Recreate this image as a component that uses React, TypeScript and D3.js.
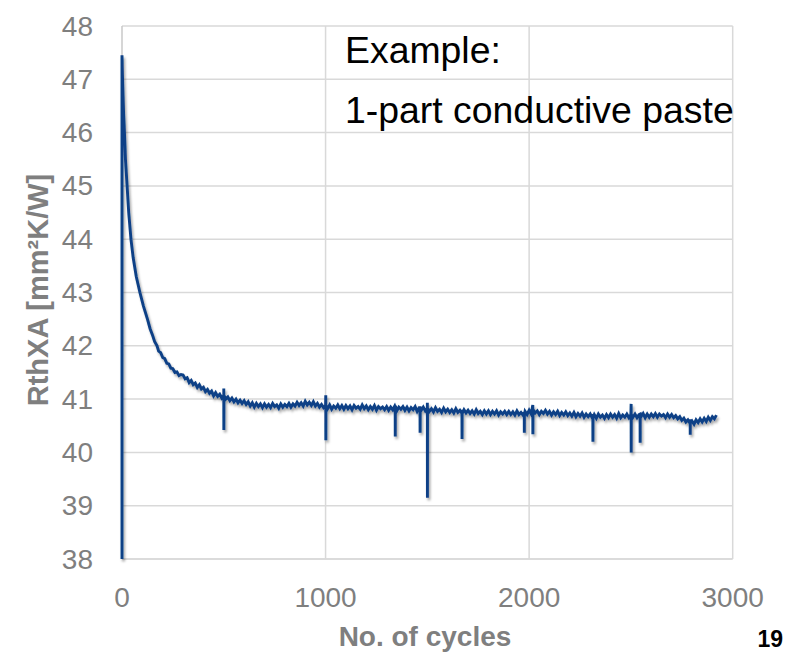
import React from "react";
import * as d3 from "d3";

// ---- data ----
const xTicks = [0, 1000, 2000, 3000];
const yTicks = [38, 39, 40, 41, 42, 43, 44, 45, 46, 47, 48];

// initial drop-in + decay section
const decayCycles = [0, 0, 2, 5, 8, 12, 17, 25, 33, 44, 55, 70, 88, 105, 125, 138, 150, 160, 172, 180, 190, 200, 210, 220, 230, 240, 250, 260, 270, 280, 290];
const decayValues = [38, 47.45, 47.1, 46.7, 46.35, 46.0, 45.5, 45.0, 44.5, 44.0, 43.65, 43.3, 43.0, 42.75, 42.5, 42.32, 42.2, 42.08, 42.0, 41.9, 41.87, 41.78, 41.76, 41.67, 41.66, 41.58, 41.57, 41.5, 41.51, 41.44, 41.46];

// plateau section, sampled every 10 cycles from 300
const plateauStart = 300;
const plateauStep = 10;
const plateauValues = [
  41.45, 41.38, 41.4, 41.31, 41.35, 41.27, 41.3, 41.22, 41.27, 41.19,
  41.22, 41.14, 41.18, 41.11, 41.15, 41.06, 41.12, 41.05, 41.09, 41.02,
  41.07, 41.0, 41.04, 40.97, 41.02, 40.95, 41.0, 40.93, 40.98, 40.92,
  40.97, 40.9, 40.95, 40.87, 40.93, 40.85, 40.92, 40.86, 40.91, 40.84,
  40.91, 40.85, 40.9, 40.84, 40.92, 40.86, 40.89, 40.83, 40.91, 40.85,
  40.9, 40.86, 40.92, 40.85, 40.91, 40.87, 40.94, 40.88, 40.93, 40.87,
  40.96, 40.89, 40.94, 40.88, 40.95, 40.87, 40.92, 40.85, 40.9, 40.84,
  40.88, 40.82, 40.89, 40.81, 40.87, 40.83, 40.89, 40.82, 40.88, 40.81,
  40.88, 40.82, 40.87, 40.8, 40.88, 40.83, 40.86, 40.81, 40.89, 40.82,
  40.87, 40.8, 40.86, 40.81, 40.88, 40.79, 40.86, 40.82, 40.85, 40.8,
  40.86, 40.79, 40.85, 40.8, 40.87, 40.78, 40.85, 40.81, 40.86, 40.79,
  40.85, 40.78, 40.84, 40.8, 40.86, 40.77, 40.84, 40.79, 40.85, 40.78,
  40.83, 40.77, 40.82, 40.76, 40.84, 40.77, 40.81, 40.75, 40.83, 40.76,
  40.81, 40.75, 40.8, 40.74, 40.82, 40.75, 40.79, 40.73, 40.8, 40.74,
  40.79, 40.73, 40.78, 40.72, 40.8, 40.73, 40.77, 40.71, 40.78, 40.72,
  40.78, 40.71, 40.77, 40.72, 40.78, 40.7, 40.76, 40.72, 40.77, 40.71,
  40.77, 40.71, 40.76, 40.7, 40.78, 40.71, 40.75, 40.7, 40.77, 40.71,
  40.79, 40.72, 40.8, 40.74, 40.78, 40.71, 40.77, 40.73, 40.79, 40.72,
  40.77, 40.7, 40.76, 40.71, 40.77, 40.69, 40.75, 40.7, 40.76, 40.69,
  40.74, 40.68, 40.75, 40.67, 40.73, 40.68, 40.74, 40.66, 40.72, 40.67,
  40.72, 40.65, 40.71, 40.64, 40.72, 40.66, 40.7, 40.64, 40.71, 40.65,
  40.72, 40.66, 40.71, 40.64, 40.73, 40.65, 40.7, 40.66, 40.72, 40.65,
  40.71, 40.66, 40.72, 40.65, 40.71, 40.67, 40.73, 40.65, 40.72, 40.66,
  40.72, 40.67, 40.73, 40.66, 40.72, 40.68, 40.71, 40.65, 40.72, 40.66,
  40.71, 40.65, 40.69, 40.63, 40.67, 40.6, 40.64, 40.57, 40.61, 40.55,
  40.59, 40.53, 40.61, 40.56, 40.63, 40.57, 40.64, 40.58, 40.66, 40.6,
  40.67, 40.63, 40.7,
];

// isolated measurement spikes
const spikeCycles = [500, 1001, 1342, 1464, 1500, 1670, 1976, 2018, 2313, 2501, 2545, 2791];
const spikeTop = [41.2, 41.07, 40.85, 40.84, 40.93, 40.8, 40.75, 40.89, 40.72, 40.91, 40.72, 40.62];
const spikeBottom = [40.42, 40.23, 40.3, 40.37, 39.15, 40.25, 40.37, 40.34, 40.2, 40.0, 40.18, 40.33];

const W = 787;
const H = 654;
const FONT = "'Liberation Sans', Arial, Helvetica, sans-serif";

export default function App() {
  const x = d3.scaleLinear().domain([0, 3000]).range([122, 732.7]);
  const y = d3.scaleLinear().domain([38, 48]).range([559, 26]);

  const pts: [number, number][] = [];
  decayCycles.forEach((c, i) => pts.push([c, decayValues[i]]));
  const plateau: [number, number][] = plateauValues.map((v, i) => [plateauStart + plateauStep * i, v]);
  const extra: [number, number][] = [];
  spikeCycles.forEach((c, i) => {
    const prev = plateau.filter((p) => p[0] <= c).pop();
    const base = prev ? prev[1] : spikeTop[i];
    extra.push([c + 0.01, spikeTop[i]]);
    extra.push([c + 0.4, spikeBottom[i]]);
    extra.push([c + 0.8, base]);
  });
  const rest = [...plateau, ...extra].sort((a, b) => a[0] - b[0]);
  const all = [...pts, ...rest];

  const line = d3
    .line<[number, number]>()
    .x((d) => x(d[0]))
    .y((d) => y(d[1]));

  const gridColor = "#d9d9d9";
  const labelColor = "#7f7f7f";

  return (
    <svg
      width={W}
      height={H}
      viewBox={`0 0 ${W} ${H}`}
      style={{ position: "absolute", left: 0, top: 0, background: "#fff" }}
    >
      <defs>
        <filter id="shadow" x="-5%" y="-5%" width="110%" height="110%">
          <feDropShadow dx="1.5" dy="2.5" stdDeviation="1.2" floodColor="#000" floodOpacity="0.35" />
        </filter>
      </defs>
      <rect width={W} height={H} fill="#fff" />
      {/* horizontal gridlines */}
      {yTicks.map((t) => (
        <line
          key={"hy" + t}
          x1={x(0)}
          x2={x(3000)}
          y1={y(t)}
          y2={y(t)}
          stroke={t === 38 ? "#cfcfcf" : gridColor}
          strokeWidth={1.5}
        />
      ))}
      {/* vertical gridlines */}
      {xTicks.map((t) => (
        <line
          key={"vx" + t}
          x1={x(t)}
          x2={x(t)}
          y1={y(48)}
          y2={y(38)}
          stroke={t === 0 ? "#c8c8c8" : gridColor}
          strokeWidth={1.5}
        />
      ))}
      {/* data line */}
      <path
        d={line(all) || ""}
        fill="none"
        stroke="#0b3f86"
        strokeWidth={2.9}
        strokeLinejoin="miter"
        filter="url(#shadow)"
      />
      {/* y tick labels */}
      {yTicks.map((t) => (
        <text
          key={"ty" + t}
          x={93}
          y={y(t)}
          textAnchor="end"
          dominantBaseline="central"
          fontFamily={FONT}
          fontSize={28}
          fill={labelColor}
        >
          {t}
        </text>
      ))}
      {/* x tick labels */}
      {xTicks.map((t) => (
        <text
          key={"tx" + t}
          x={x(t)}
          y={607}
          textAnchor="middle"
          fontFamily={FONT}
          fontSize={28}
          fill={labelColor}
        >
          {t}
        </text>
      ))}
      {/* axis titles */}
      <text
        x={425}
        y={646}
        textAnchor="middle"
        fontFamily={FONT}
        fontSize={28}
        fontWeight="bold"
        fill={labelColor}
      >
        No. of cycles
      </text>
      <text
        transform="translate(47.5,290) rotate(-90)"
        textAnchor="middle"
        fontFamily={FONT}
        fontSize={29}
        fontWeight="bold"
        fill={labelColor}
      >
        RthXA [mm²K/W]
      </text>
      {/* annotation */}
      <text x={345} y={63} fontFamily={FONT} fontSize={37.4} fill="#000">
        Example:
      </text>
      <text x={345} y={123} fontFamily={FONT} fontSize={37.4} fill="#000">
        1-part conductive paste
      </text>
      {/* page number */}
      <text
        x={783}
        y={647}
        textAnchor="end"
        fontFamily={FONT}
        fontSize={23}
        fontWeight="bold"
        fill="#000"
      >
        19
      </text>
    </svg>
  );
}
